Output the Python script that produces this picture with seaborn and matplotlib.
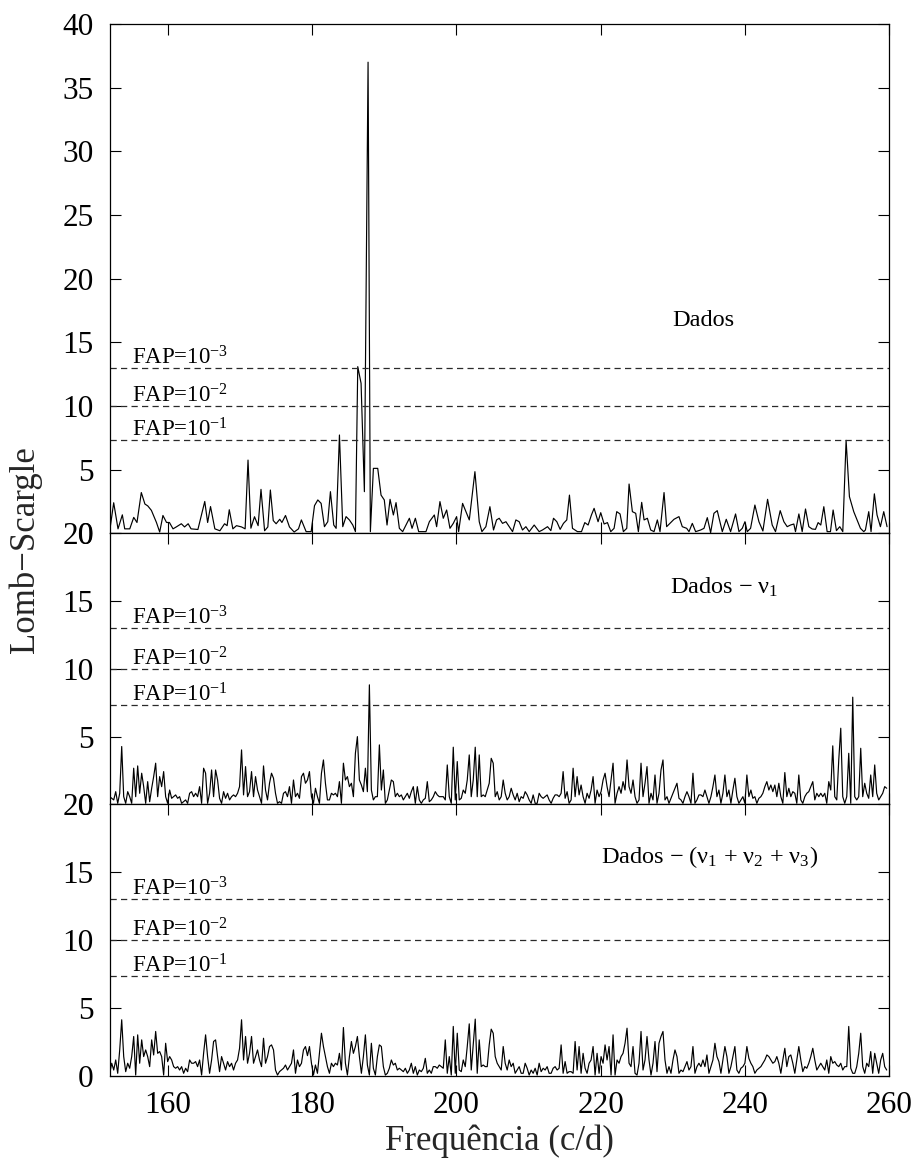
import numpy as np
import matplotlib
matplotlib.use("Agg")
import matplotlib.pyplot as plt
import seaborn as sns

# ---------------- periodogram data ----------------
# Lomb-Scargle power of the raw light curve (irregular vertices)
top_freq = [
    151.92, 152.47, 153.07, 153.67, 154.0, 154.7, 155.25, 155.7, 156.3, 156.8,
    157.2, 157.7, 158.4, 158.85, 159.3, 159.8, 160.2, 160.7, 161.15, 161.85,
    162.3, 162.8, 163.2, 164.15, 165.1, 165.5, 165.9, 166.5, 167.2, 167.85,
    168.2, 168.5, 169.0, 169.5, 170.2, 170.7, 171.1, 171.5, 172.0, 172.5,
    172.9, 173.4, 173.85, 174.2, 174.6, 175.0, 175.5, 175.8, 176.3, 176.85,
    177.5, 178.1, 178.5, 179.16, 179.86, 180.32, 180.78, 181.24, 181.7, 182.16,
    182.53, 182.99, 183.32, 183.78, 184.24, 184.7, 185.16, 185.63, 186.0, 186.32,
    186.78, 187.24, 187.75, 188.07, 188.49, 189.09, 189.55, 190.0, 190.38, 190.8,
    191.26, 191.63, 192.09, 192.55, 193.01, 193.48, 193.85, 194.31, 194.77, 195.23,
    195.78, 196.25, 196.94, 197.26, 197.72, 198.18, 198.65, 199.11, 199.57, 200.03,
    200.31, 200.86, 201.32, 201.79, 202.57, 203.17, 203.54, 204.09, 204.65, 205.15,
    205.57, 205.94, 206.4, 206.87, 207.33, 207.79, 208.25, 208.71, 209.17, 209.64,
    210.1, 210.79, 211.48, 211.94, 212.64, 213.1, 213.47, 213.93, 214.39, 214.85,
    215.31, 215.68, 216.1, 216.79, 217.35, 217.81, 218.27, 218.73, 219.1, 219.65,
    220.02, 220.49, 220.95, 221.41, 221.87, 222.24, 222.7, 223.16, 223.63, 223.95,
    224.41, 224.87, 225.24, 225.7, 226.03, 226.49, 226.95, 227.41, 227.87, 228.24,
    228.8, 229.16, 229.72, 230.18, 230.87, 231.33, 231.94, 232.26, 232.72, 233.18,
    233.88, 234.34, 234.8, 235.26, 235.72, 236.18, 236.88, 237.43, 238.03, 238.72,
    239.19, 239.65, 240.02, 240.34, 240.8, 241.4, 241.96, 242.51, 243.16, 243.8,
    244.26, 244.91, 245.42, 245.88, 246.34, 246.8, 247.03, 247.5, 247.96, 248.42,
    248.88, 249.34, 249.8, 250.17, 250.54, 250.96, 251.42, 251.88, 252.25, 252.71,
    253.17, 253.59, 254.05, 254.51, 255.11, 255.57, 256.04, 256.5, 256.73, 257.19,
    257.51, 257.97, 258.34, 258.81, 259.27, 259.73,
]
top_power = [
    0.2, 2.4, 0.35, 1.45, 0.35, 0.35, 1.25, 0.85, 3.2, 2.3,
    2.15, 1.8, 0.85, 0.1, 1.4, 0.85, 0.85, 0.35, 0.5, 0.75,
    0.5, 0.75, 0.35, 0.3, 2.5, 0.85, 2.1, 0.35, 0.2, 0.75,
    0.6, 1.85, 0.35, 0.6, 0.5, 0.35, 5.75, 0.4, 1.3, 0.6,
    3.45, 0.2, 0.5, 3.4, 1.0, 0.75, 1.1, 0.85, 1.4, 0.5,
    0.1, 0.35, 1.05, 0.13, 0.13, 2.17, 2.62, 2.35, 0.52, 0.91,
    3.27, 0.65, 0.39, 7.72, 0.52, 1.31, 1.05, 0.65, 0.13, 13.09,
    11.78, 3.27, 37.0, 0.13, 5.1, 5.1, 3.0, 2.62, 0.65, 2.67,
    1.44, 2.41, 0.39, 0.13, 0.65, 1.18, 0.39, 1.18, 0.13, 0.13,
    0.13, 0.91, 1.44, 0.52, 2.49, 1.18, 1.83, 0.39, 0.78, 1.31,
    0.13, 2.35, 1.7, 1.05, 4.84, 0.91, 0.13, 0.52, 2.09, 0.26,
    1.05, 1.18, 0.78, 0.91, 0.52, 0.13, 1.05, 0.91, 0.26, 0.52,
    0.13, 0.65, 0.13, 0.26, 0.52, 0.21, 1.18, 0.91, 0.31, 0.78,
    1.05, 3.0, 0.39, 0.13, 0.13, 0.84, 0.65, 1.44, 1.96, 0.91,
    1.62, 0.73, 0.84, 0.13, 0.39, 1.7, 1.52, 0.13, 0.39, 3.87,
    1.7, 1.57, 0.13, 2.43, 1.05, 1.18, 0.26, 0.13, 1.05, 0.13,
    3.2, 0.52, 0.84, 1.1, 1.31, 0.52, 0.39, 0.13, 0.78, 0.13,
    0.26, 0.39, 1.23, 0.05, 1.57, 1.78, 0.13, 1.1, 0.13, 1.52,
    0.13, 0.39, 0.91, 0.13, 0.39, 2.22, 0.91, 0.18, 2.67, 0.65,
    0.13, 1.78, 0.91, 0.52, 0.65, 0.73, 0.13, 1.52, 0.13, 1.91,
    0.52, 0.34, 0.31, 0.84, 0.65, 2.09, 0.13, 0.13, 1.83, 0.21,
    0.52, 0.13, 7.3, 2.88, 1.7, 1.05, 0.39, 0.13, 0.26, 1.7,
    0.13, 3.1, 1.44, 0.52, 1.7, 0.52,
]

# Residual power after removing nu1 (uniform frequency grid)
mid_power = [
    0.57, 0.45, 0.33, 0.94, 0.08, 0.82, 4.27, 0.57, 0.08, 0.94, 0.57,
    0.08, 2.67, 0.57, 2.84, 0.82, 2.3, 1.31, 0.08, 1.68, 0.2,
    1.19, 2.05, 3.04, 0.57, 2.05, 1.31, 2.42, 0.57, 0.08, 1.06,
    0.45, 0.57, 0.7, 0.45, 0.57, 0.08, 0.2, 0.33, 0.08, 0.82,
    0.94, 0.57, 0.82, 0.57, 1.31, 0.08, 2.67, 2.3, 0.08, 0.82,
    2.54, 0.57, 2.54, 1.8, 0.45, 0.08, 0.94, 0.45, 0.82, 0.33,
    0.57, 0.7, 0.57, 0.82, 1.31, 4.02, 0.7, 2.79, 0.57, 0.94,
    2.42, 0.57, 2.05, 1.06, 0.57, 0.08, 2.84, 1.06, 0.33, 1.56,
    2.3, 1.93, 0.82, 0.08, 0.2, 0.08, 0.82, 0.94, 0.57, 1.31,
    0.08, 1.8, 0.57, 0.82, 0.45, 2.05, 2.3, 1.56, 1.8, 2.42,
    0.57, 0.08, 1.19, 0.57, 0.08, 2.3, 3.28, 1.56, 0.33, 0.33,
    0.82, 0.7, 0.82, 0.57, 1.68, 0.08, 3.04, 1.8, 2.05, 1.31,
    1.56, 0.57, 3.77, 5.0, 1.8, 1.43, 0.94, 2.67, 0.94, 8.82,
    1.06, 0.33, 0.57, 0.57, 4.39, 1.06, 2.54, 0.08, 0.33, 1.06,
    1.8, 1.68, 0.57, 0.82, 0.57, 0.7, 0.33, 0.57, 0.82, 0.45,
    0.94, 1.31, 0.08, 1.31, 0.33, 0.08, 0.33, 0.45, 1.68, 0.2,
    0.33, 0.57, 0.94, 0.7, 0.57, 0.57, 0.57, 0.33, 2.91, 0.57,
    0.08, 4.22, 0.33, 3.16, 0.33, 0.45, 1.06, 0.82, 1.8, 3.65,
    0.57, 1.8, 4.22, 0.57, 3.65, 0.57, 0.7, 0.57, 1.06, 1.56,
    3.4, 3.04, 0.57, 0.94, 0.33,
    0.57, 1.8, 0.82, 0.33, 0.57, 1.19, 0.7, 0.33, 0.82, 0.2,
    0.57, 0.45, 0.94, 0.7, 0.33, 0.08, 0.7, 0.08, 0.08, 0.82,
    0.57, 0.45, 0.57, 0.7, 0.33, 0.08, 0.45, 0.7, 0.7, 0.57,
    0.82, 2.42, 0.45, 0.94, 0.08, 0.33, 2.67, 0.57, 2.05, 0.7,
    1.43, 0.57, 0.08, 0.82, 0.45, 1.06, 2.05, 0.08, 1.06, 0.57,
    0.94, 1.8, 2.3, 1.31, 0.57, 1.8, 3.04, 0.08, 0.82, 1.31,
    0.82, 1.68, 1.06, 3.28, 1.31, 0.82, 1.8, 0.57, 0.08, 0.33,
    3.04, 0.57, 1.56, 2.79, 0.08, 0.82, 0.33, 2.17, 0.08, 0.82,
    2.54, 3.28, 0.33, 0.57, 0.08, 0.45, 0.82, 1.19, 1.56, 0.45,
    0.33, 0.08, 0.57, 0.94, 0.57, 0.08, 2.3,
    0.08, 0.33, 0.7, 0.7, 0.57, 1.06, 0.57, 0.08, 0.57, 1.31,
    2.17, 0.57, 1.06, 0.08, 0.82, 2.17, 0.57, 1.06, 0.08, 1.06,
    1.93, 0.57, 0.08, 0.33, 0.57, 0.08, 2.17, 0.57, 1.06, 0.45,
    0.57, 0.08, 0.45, 0.57, 0.82, 1.31, 1.68, 1.06, 1.43, 0.94,
    1.43, 0.57, 1.56, 0.57, 0.08, 2.35, 0.57, 1.19, 0.57, 0.94,
    0.82, 0.08, 2.17, 0.33, 0.08, 0.57, 0.82, 0.94, 1.31, 1.68,
    0.33, 0.82, 0.57, 0.82, 0.57, 0.82, 0.08, 1.68, 1.06, 4.32,
    0.57, 0.33, 3.28, 5.62, 0.57, 0.08, 0.57, 3.77, 0.08, 7.91,
    0.57, 0.33, 0.57, 4.14, 0.57, 1.56, 0.82, 0.45, 2.17, 0.57,
    2.91, 0.82, 0.33, 0.57, 0.82, 1.31, 1.19,
]

# Residual power after removing nu1, nu2 and nu3 (uniform frequency grid)
bot_power = [
    0.2, 0.94, 0.44, 1.18, 0.2, 1.92, 4.14, 1.43, 0.32, 0.94,
    0.57, 1.43, 2.91, 0.07, 3.03, 0.94, 2.66, 1.43, 1.92, 1.43,
    0.69, 2.66, 1.55, 3.28, 1.67, 1.8, 1.43, 0.07, 2.41, 1.06,
    1.43, 1.18, 0.69, 0.57, 0.69, 0.44, 0.69, 0.2, 0.57, 0.32,
    1.18, 0.94, 0.94, 1.06, 0.69, 1.18, 0.07, 1.67, 3.03, 1.43,
    0.2, 1.18, 2.54, 2.66, 1.43, 0.32, 1.43, 0.94, 0.44, 1.06,
    0.69, 0.94, 0.44, 0.94, 1.18, 2.04, 4.14, 1.18, 2.91, 0.94,
    1.67, 2.91, 0.94, 1.43, 1.92, 1.18, 0.69, 2.78, 0.94, 1.43,
    2.17, 2.29, 1.92, 0.44, 0.07, 0.32, 0.44, 0.57, 0.81, 0.44,
    0.69, 0.94, 1.92, 0.2, 1.18, 0.69, 0.94, 1.92, 2.17, 1.5,
    2.17,
    0.94, 0.07, 0.81, 0.2, 1.67, 3.15, 2.17, 1.43, 0.69, 0.2,
    0.94, 0.69, 0.94, 0.81, 1.67, 0.44, 3.57, 0.94, 0.07, 1.43,
    2.54, 1.67, 2.17, 2.91, 1.43, 0.2, 1.43, 3.03, 0.81, 0.07,
    2.41, 0.57, 0.07, 1.43, 2.29, 2.17, 0.69, 0.07, 0.2, 0.57,
    1.18, 0.81, 0.94, 0.44, 0.57, 0.44, 0.32, 0.57, 0.2, 0.44,
    0.94, 0.2, 0.69, 0.07, 0.44, 0.32, 0.57, 1.3, 0.2, 0.44,
    0.2, 0.69, 0.69, 0.57, 0.81, 0.69, 0.57, 2.66, 0.2, 1.43,
    0.07, 3.65, 0.2, 3.15, 0.44, 0.32, 1.18, 0.69, 2.17, 3.84,
    0.44, 2.29, 4.19, 0.2, 2.66, 0.69, 0.81, 0.69, 0.69, 2.29,
    3.45, 3.15, 1.43, 0.94, 0.69,
    0.44, 2.17, 0.94, 0.44, 1.18, 0.69, 0.94, 0.2, 0.44, 0.69,
    0.2, 0.2, 0.94, 0.57, 0.07, 0.44, 0.2, 0.57, 0.07, 0.94,
    0.32, 0.57, 0.44, 0.69, 0.2, 0.2, 0.57, 0.69, 0.44, 0.57,
    2.29, 0.2, 1.06, 0.2, 0.32, 0.32, 0.2, 2.54, 0.44, 2.17,
    0.2, 1.67, 0.57, 0.2, 0.94, 1.18, 2.17, 0.07, 1.67, 0.2,
    1.43, 0.94, 2.29, 1.18, 2.17, 0.07, 3.03, 0.07, 1.18, 0.94,
    1.43, 1.67, 2.41, 3.52, 0.94, 0.69, 2.17, 0.2, 0.07, 0.94,
    3.28, 0.44, 1.18, 2.91, 1.18, 0.07, 0.94, 2.54, 0.32, 2.41,
    2.91, 3.28, 1.18, 0.2, 0.69, 0.2, 1.18, 1.92, 1.43, 0.2,
    0.44, 0.32, 0.69, 1.06, 0.44, 0.69, 2.17,
    0.2, 0.69, 0.94, 0.69, 1.18, 0.69, 1.55, 0.2, 0.69, 1.18,
    2.41, 1.43, 1.06, 0.2, 1.18, 2.17, 1.43, 0.2, 0.69, 1.43,
    2.17, 0.44, 0.2, 0.57, 0.69, 0.94, 2.17, 1.3, 0.94, 0.69,
    0.2, 0.44, 0.57, 0.69, 0.94, 1.18, 1.55, 1.43, 1.18, 0.94,
    1.06, 1.43, 0.94, 0.2, 1.18, 2.04, 0.69, 1.43, 1.55, 0.94,
    0.2, 1.18, 2.17, 1.18, 0.32, 0.69, 0.57, 0.94, 1.43, 2.04,
    1.18, 0.44, 0.69, 0.94, 0.69, 0.44, 1.18, 0.2, 1.43, 0.94,
    1.06, 0.81, 0.69, 0.94, 0.44, 0.69, 0.69, 3.65, 0.57, 0.2,
    0.2, 0.69, 1.67, 3.15, 0.69, 0.2, 0.94, 0.69, 1.8, 0.2,
    1.67, 0.94, 0.2, 1.18, 1.67, 0.69, 0.44,
]

# frequency range covered by the uniform grids (c/d)
grid_start, grid_stop = 151.92, 259.68

# false-alarm-probability thresholds
fap_levels = [13.0, 10.0, 7.33]
fap_labels = ["FAP=10$^{-3}$", "FAP=10$^{-2}$", "FAP=10$^{-1}$"]

panel_names = ["Dados", "Dados − ν$_1$", "Dados − (ν$_1$ + ν$_2$ + ν$_3$)"]
x_ticks = [160, 180, 200, 220, 240, 260]

# ---------------- styling ----------------
sns.set_style("ticks")
plt.rcParams["font.family"] = ["Liberation Serif", "DejaVu Serif"]
plt.rcParams["mathtext.fontset"] = "custom"
plt.rcParams["mathtext.rm"] = "Liberation Serif"
plt.rcParams["mathtext.it"] = "Liberation Serif:italic"
plt.rcParams["mathtext.bf"] = "Liberation Serif:bold"
plt.rcParams["axes.unicode_minus"] = True

W, H = 920, 1164
fig = plt.figure(figsize=(W / 100, H / 100), dpi=100)


def frac_box(left, top, right, bottom):
    return [left / W, 1 - bottom / H, (right - left) / W, (bottom - top) / H]


ax_top = fig.add_axes(frac_box(110.3, 24.0, 889.0, 533.3))
ax_mid = fig.add_axes(frac_box(110.3, 533.3, 889.0, 804.4))
ax_bot = fig.add_axes(frac_box(110.3, 804.4, 889.0, 1076.0))

mid_freq = np.linspace(grid_start, grid_stop, len(mid_power))
bot_freq = np.linspace(grid_start, grid_stop, len(bot_power))

series = [
    (ax_top, top_freq, top_power, 40),
    (ax_mid, mid_freq, mid_power, 20),
    (ax_bot, bot_freq, bot_power, 20),
]

name_pos = [(230.0, 16.75), (229.6, 16.0), (220.0, 16.1)]

for i, (ax, fx, py, ymax) in enumerate(series):
    sns.lineplot(x=fx, y=py, ax=ax, color="black", linewidth=0.85,
                 estimator=None, sort=False, legend=False)
    for lvl, lab in zip(fap_levels, fap_labels):
        ax.axhline(lvl, color="#2a2a2a", linewidth=0.9, dashes=(5.0, 3.4))
        ax.annotate(lab, xy=(155.0, lvl), xytext=(0, 2.5),
                    textcoords="offset points", ha="left", va="baseline",
                    fontsize=16.5, color="black")
    nx, ny = name_pos[i]
    ax.text(nx, ny, panel_names[i], ha="left", va="center",
            fontsize=17.5, color="black")

    ax.set_xlim(152, 260)
    ax.set_ylim(0, ymax)
    ax.set_yticks(list(range(0, ymax + 1, 5)))
    ax.set_xticks(x_ticks)
    ax.set_xlabel("")
    ax.set_ylabel("")
    ax.tick_params(axis="both", direction="in", length=8, width=0.8,
                   top=True, right=True, labelsize=22.5, colors="black")
    ax.tick_params(axis="y", pad=12)
    ax.tick_params(axis="x", pad=11)
    for sp in ax.spines.values():
        sp.set_visible(True)
        sp.set_color("black")
        sp.set_linewidth(0.9)
    ax.set_facecolor("white")
    if ax is not ax_bot:
        ax.tick_params(axis="x", labelbottom=False)

ax_bot.set_xlabel("Frequência (c/d)", fontsize=25, labelpad=3)
fig.text(25 / W, 1 - 550 / H, "Lomb−Scargle", rotation=90,
         ha="center", va="center", fontsize=25)

fig.savefig("out.png", dpi=100, facecolor="white")
